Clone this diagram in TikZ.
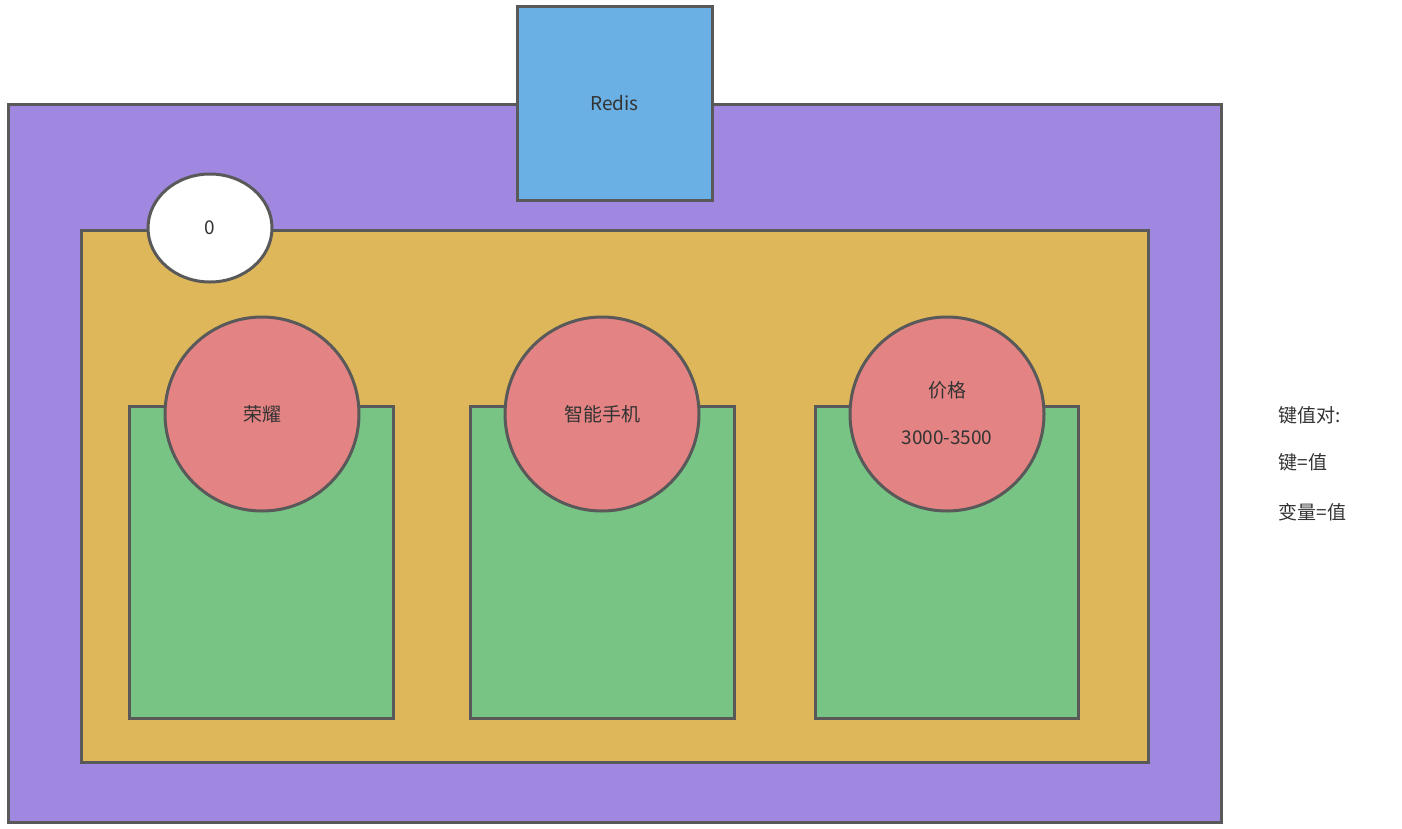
\documentclass[tikz,border=0pt]{standalone}
\usepackage{fontspec}
\setmainfont{Noto Sans CJK SC}
\definecolor{bd}{HTML}{595959}
\definecolor{pu}{HTML}{A088E0}
\definecolor{og}{HTML}{DEB75A}
\definecolor{gr}{HTML}{78C485}
\definecolor{rd}{HTML}{E48383}
\definecolor{bl}{HTML}{6AB0E4}
\begin{document}
\begin{tikzpicture}[x=1pt,y=-1pt,line width=3pt,
  box/.style={draw=bd},
  txt/.style={font=\fontsize{19}{23}\selectfont,text=black!80}]
\useasboundingbox (0,0) rectangle (1402,828);
\draw[box,fill=pu] (8,104) rectangle (1221,822);
\draw[box,fill=bl] (517,6) rectangle (712,200);
\node[txt] (redis) at (614.5,103) {Redis};
\draw[box,fill=og] (81,230) rectangle (1148,762);
\draw[box,fill=white] (210,228) ellipse [x radius=62,y radius=54];
\node[txt] (zero) at (210,228) {0};
\draw[box,fill=gr] (129,406) rectangle (393,718);
\draw[box,fill=gr] (470,406) rectangle (734,718);
\draw[box,fill=gr] (815,406) rectangle (1078,718);
\draw[box,fill=rd] (262,414) circle[radius=97];
\draw[box,fill=rd] (602,414) circle[radius=97];
\draw[box,fill=rd] (947,414) circle[radius=97];
\node[txt] (a) at (262,414) {荣耀};
\node[txt] (b) at (602,414) {智能手机};
\node[txt] (c1) at (947,390) {价格};
\node[txt] (c2) at (947,438) {3000-3500};
\node[txt,anchor=west] (k1) at (1274,415) {键值对:};
\node[txt,anchor=west] (k2) at (1274,462) {键=值};
\node[txt,anchor=west] (k3) at (1274,512) {变量=值};
\end{tikzpicture}
\end{document}
